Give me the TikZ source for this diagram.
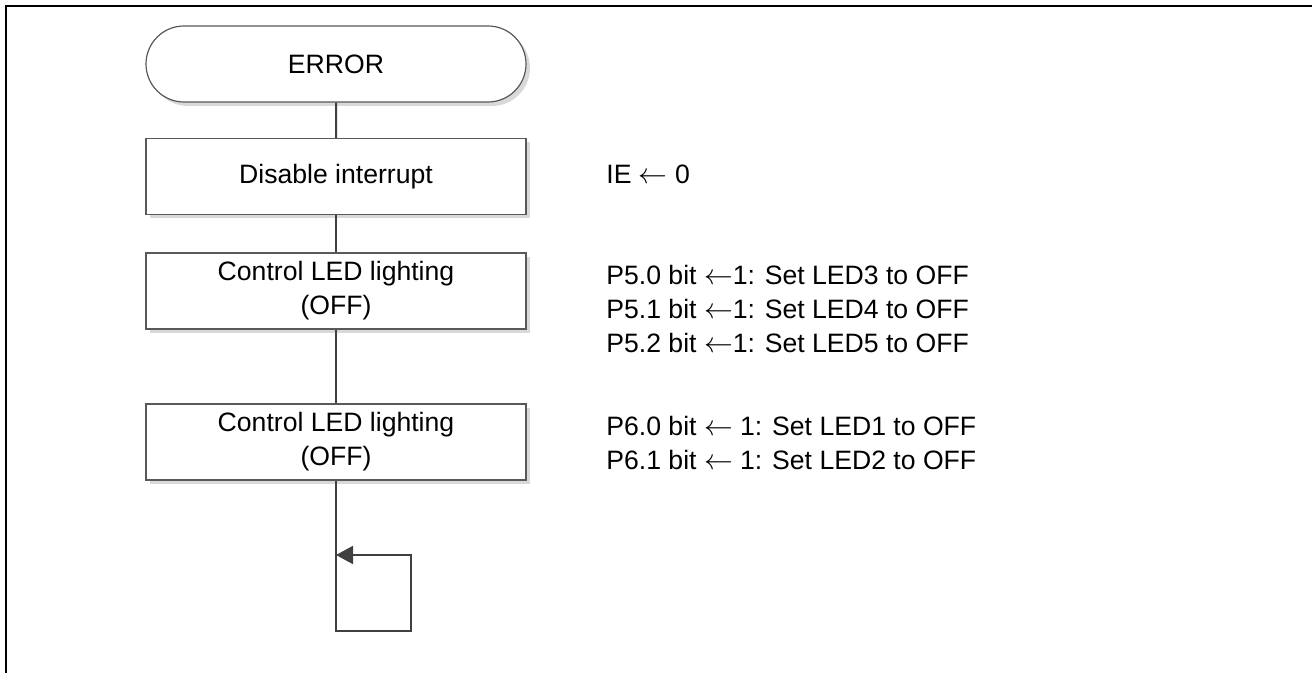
\documentclass[tikz,border=0pt]{standalone}
\usepackage{fontspec}
\setmainfont{Liberation Sans}
\usetikzlibrary{shapes.misc,shadows,arrows.meta}
\newcommand{\setto}{\(\leftarrow\)}

\begin{document}
\begin{tikzpicture}[x=0.5pt,y=-0.5pt,font=\fontsize{13.3}{17}\selectfont,
    >={Triangle[length=8.5pt,width=9pt]},
    flow/.style={draw=black!75,line width=1pt},
    box/.style={draw=black!65,line width=0.6pt,fill=white,align=center,
      minimum width=190pt,minimum height=38pt,inner sep=0pt,
      drop shadow={shadow xshift=2pt,shadow yshift=-2pt,fill=black!15,opacity=1}},
    term/.style={box,rounded rectangle},
    note/.style={anchor=west,align=left,inner sep=0pt}]
    \useasboundingbox (0,0) rectangle (1312,673);
    \draw[line width=1.2pt] (6,673) -- (6,6) -- (1312,6);
    \node[term] (err) at (336,64) {ERROR};
    \node[box] (dis) at (336,176.5) {Disable interrupt};
    \node[box] (leda) at (336,291) {Control LED lighting\\(OFF)};
    \node[box] (ledb) at (336,442) {Control LED lighting\\(OFF)};
    \node[note] (ie) at (606,174) {IE \setto{} 0};
    \node[note] (portfive) at (606,309) {P5.0 bit \setto1: Set LED3 to OFF\\P5.1 bit \setto1: Set LED4 to OFF\\P5.2 bit \setto1: Set LED5 to OFF};
    \node[note] (portsix) at (606,443) {P6.0 bit \setto{} 1: Set LED1 to OFF\\P6.1 bit \setto{} 1: Set LED2 to OFF};
    \draw[flow] (err) -- (dis);
    \draw[flow] (dis) -- (leda);
    \draw[flow] (leda) -- (ledb);
    \coordinate (loopin) at (336,555);
    \coordinate (loopend) at (336,631);
    \draw[flow,->] (ledb) -- (loopend) -- ++(75,0) |- (loopin);
  \end{tikzpicture}
\end{document}
